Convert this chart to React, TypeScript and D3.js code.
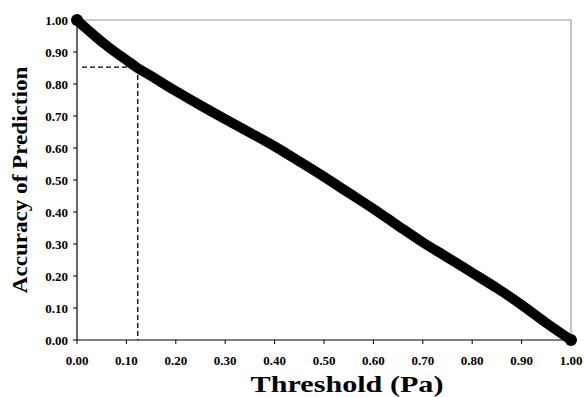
import React from "react";
import * as d3 from "d3";

// threshold (Pa) vs accuracy
const thresholds = [
  0.0, 0.01, 0.02, 0.04, 0.06, 0.08, 0.1, 0.12, 0.15, 0.2, 0.25, 0.3, 0.35,
  0.4, 0.45, 0.5, 0.55, 0.6, 0.65, 0.7, 0.75, 0.8, 0.85, 0.9, 0.95, 1.0,
];
const accuracy = [
  1.0, 0.985, 0.972, 0.945, 0.92, 0.897, 0.875, 0.853, 0.825, 0.778, 0.733,
  0.69, 0.648, 0.605, 0.558, 0.51, 0.46, 0.41, 0.357, 0.305, 0.258, 0.21,
  0.162, 0.11, 0.053, 0.0,
];
const tickValues = [0, 0.1, 0.2, 0.3, 0.4, 0.5, 0.6, 0.7, 0.8, 0.9, 1.0];
const markX = 0.123;
const markY = 0.853;

const W = 584;
const H = 397;
const margin = { top: 20, right: 13, bottom: 57, left: 77 };
const font = "'Liberation Serif', 'Times New Roman', serif";

export default function App() {
  const x = d3
    .scaleLinear()
    .domain([0, 1])
    .range([margin.left, W - margin.right]);
  const y = d3
    .scaleLinear()
    .domain([0, 1])
    .range([H - margin.bottom, margin.top]);

  const points = thresholds.map((t, i) => [t, accuracy[i]] as [number, number]);
  const line = d3
    .line<[number, number]>()
    .x((d) => x(d[0]))
    .y((d) => y(d[1]))
    .curve(d3.curveMonotoneX);

  const fmt = d3.format(".2f");
  const x0 = x(0);
  const x1 = x(1);
  const y0 = y(0);
  const y1 = y(1);

  return (
    <svg
      width={W}
      height={H}
      style={{ position: "absolute", left: 0, top: 0, background: "#fff" }}
    >
      {/* frame */}
      <line x1={x0} x2={x1} y1={y1} y2={y1} stroke="#999" strokeWidth={1} />
      <line x1={x1} x2={x1} y1={y1} y2={y0} stroke="#888" strokeWidth={1} />
      <line x1={x0} x2={x0} y1={y1} y2={y0} stroke="#000" strokeWidth={1.2} />
      <line x1={x0} x2={x1} y1={y0} y2={y0} stroke="#000" strokeWidth={1.2} />

      {/* y ticks */}
      {tickValues.map((v) => (
        <g key={"y" + v}>
          <line x1={x0 - 4} x2={x0} y1={y(v)} y2={y(v)} stroke="#000" />
          <text
            x={x0 - 9}
            y={y(v)}
            dy="0.35em"
            textAnchor="end"
            fontFamily={font}
            fontWeight="bold"
            fontSize={13}
          >
            {fmt(v)}
          </text>
        </g>
      ))}

      {/* x ticks */}
      {tickValues.map((v) => (
        <g key={"x" + v}>
          <line x1={x(v)} x2={x(v)} y1={y0} y2={y0 + 4} stroke="#000" />
          <text
            x={x(v)}
            y={y0 + 25}
            textAnchor="middle"
            fontFamily={font}
            fontWeight="bold"
            fontSize={13}
          >
            {fmt(v)}
          </text>
        </g>
      ))}

      {/* dashed guide lines */}
      <line
        x1={x0 + 5}
        x2={x(markX)}
        y1={y(markY)}
        y2={y(markY)}
        stroke="#000"
        strokeWidth={1.3}
        strokeDasharray="5,3"
      />
      <line
        x1={x(markX)}
        x2={x(markX)}
        y1={y(markY)}
        y2={y0}
        stroke="#000"
        strokeWidth={1.3}
        strokeDasharray="5,3"
      />

      {/* data */}
      <path
        d={line(points) || ""}
        fill="none"
        stroke="#000"
        strokeWidth={10}
        strokeLinecap="round"
        strokeLinejoin="round"
      />
      {[points[0], points[points.length - 1]].map((d, i) => (
        <circle key={i} cx={x(d[0])} cy={y(d[1])} r={6} fill="#000" />
      ))}

      {/* axis titles */}
      <text
        transform={`translate(347,${H - 5}) scale(1.34,1)`}
        textAnchor="middle"
        fontFamily={font}
        fontWeight="bold"
        fontSize={22.5}
      >
        Threshold (Pa)
      </text>
      <text
        transform={`translate(27,180) rotate(-90) scale(1.05,1)`}
        textAnchor="middle"
        fontFamily={font}
        fontWeight="bold"
        fontSize={22}
      >
        Accuracy of Prediction
      </text>
    </svg>
  );
}
